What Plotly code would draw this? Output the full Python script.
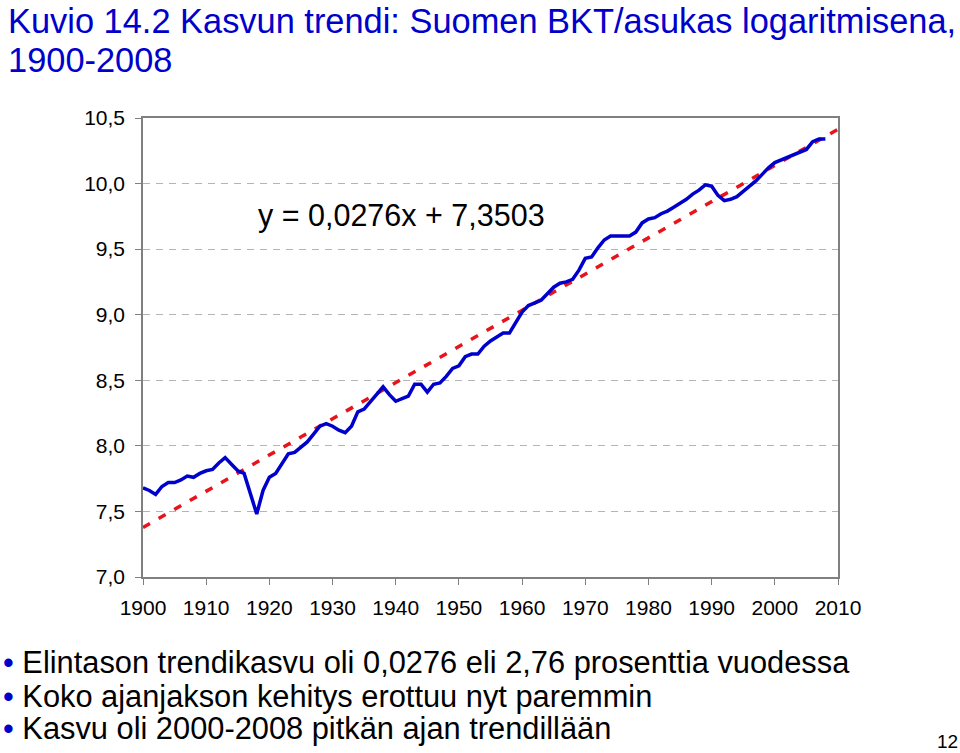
import plotly.graph_objects as go

years = list(range(1900, 2009))
gdp_log = [
    7.68, 7.66, 7.63, 7.69, 7.72, 7.72, 7.74, 7.77, 7.76, 7.79,
    7.81, 7.82, 7.87, 7.91, 7.86, 7.81, 7.79, 7.63, 7.48, 7.66,
    7.76, 7.79, 7.87, 7.94, 7.95, 7.99, 8.03, 8.09, 8.15, 8.17,
    8.15, 8.12, 8.10, 8.15, 8.26, 8.28, 8.34, 8.40, 8.45, 8.39,
    8.34, 8.36, 8.38, 8.47, 8.47, 8.41, 8.47, 8.48, 8.53, 8.59,
    8.61, 8.68, 8.70, 8.70, 8.76, 8.80, 8.83, 8.86, 8.86, 8.94,
    9.02, 9.07, 9.09, 9.11, 9.16, 9.21, 9.24, 9.25, 9.27, 9.34,
    9.43, 9.44, 9.51, 9.57, 9.60, 9.60, 9.60, 9.60, 9.63, 9.70,
    9.73, 9.74, 9.77, 9.79, 9.82, 9.85, 9.88, 9.92, 9.95, 9.99,
    9.98, 9.91, 9.87, 9.88, 9.90, 9.94, 9.98, 10.02, 10.07, 10.12,
    10.16, 10.18, 10.20, 10.22, 10.24, 10.26, 10.32, 10.34, 10.34,
]

# linear trend y = 0,0276x + 7,3503, end points only
trend_years = [1900, 2010]
trend_values = [7.378, 10.414]

x_ticks = list(range(1900, 2011, 10))

title_lines = [
    "Kuvio 14.2 Kasvun trendi: Suomen BKT/asukas logaritmisena,",
    "1900-2008",
]
bullets = [
    "Elintason trendikasvu oli 0,0276 eli 2,76 prosenttia vuodessa",
    "Koko ajanjakson kehitys erottuu nyt paremmin",
    "Kasvu oli 2000-2008 pitkän ajan trendillään",
]
equation = "y = 0,0276x + 7,3503"
page_no = "12"

BLUE = "#0000CC"
FONT = "Liberation Sans, Arial, sans-serif"

fig = go.Figure()
fig.add_trace(go.Scatter(
    x=trend_years, y=trend_values, mode="lines",
    line=dict(color="#E8141B", width=3.5, dash="8px,10px"),
))
fig.add_trace(go.Scatter(
    x=years, y=gdp_log, mode="lines",
    line=dict(color=BLUE, width=3.5),
))

axis_common = dict(
    showline=True, linecolor="#808080", linewidth=1.5, mirror=True,
    ticks="outside", ticklen=6, tickcolor="#808080",
    tickfont=dict(size=21, color="#000000", family=FONT),
    zeroline=False,
)
fig.update_xaxes(range=[1900, 2010], tickvals=x_ticks, showgrid=False,
                 ticklabelstandoff=5, **axis_common)
fig.update_yaxes(
    range=[7.0, 10.5], dtick=0.5, tickformat=".1f",
    showgrid=True, gridcolor="#B4B4B4", griddash="7px,6px", gridwidth=1,
    ticklabelstandoff=6,
    **axis_common,
)

ann = []
for text, py in zip(title_lines, [1.211, 1.127]):
    ann.append(dict(text=text, x=-0.197, y=py, xref="paper", yref="paper",
                    xanchor="left", yanchor="middle", showarrow=False,
                    font=dict(size=34.4, color=BLUE, family=FONT)))
for text, py in zip(bullets, [-0.187, -0.261, -0.331]):
    ann.append(dict(text=f"<span style='color:{BLUE}'>•</span> {text}",
                    x=-0.205, y=py, xref="paper", yref="paper",
                    xanchor="left", yanchor="middle", showarrow=False,
                    font=dict(size=30.8, color="#000000", family=FONT)))
ann.append(dict(text=equation, x=1917.9, y=9.76, xref="x", yref="y",
                xanchor="left", yanchor="middle", showarrow=False,
                font=dict(size=30.5, color="#000000", family=FONT)))
ann.append(dict(text=page_no, x=1.175, y=-0.359, xref="paper", yref="paper",
                xanchor="right", yanchor="middle", showarrow=False,
                font=dict(size=19, color="#000000", family=FONT)))

fig.update_layout(
    width=960, height=753,
    margin=dict(l=143, r=122, t=118, b=176),
    showlegend=False,
    plot_bgcolor="#FFFFFF", paper_bgcolor="#FFFFFF",
    separators=", ",
    font=dict(family=FONT),
    annotations=ann,
)

# drop the default 8px page margin so the figure fills the window
fig.write_html(
    "out.html",
    config={"displayModeBar": False},
    post_script="document.body.style.margin='0';",
)
